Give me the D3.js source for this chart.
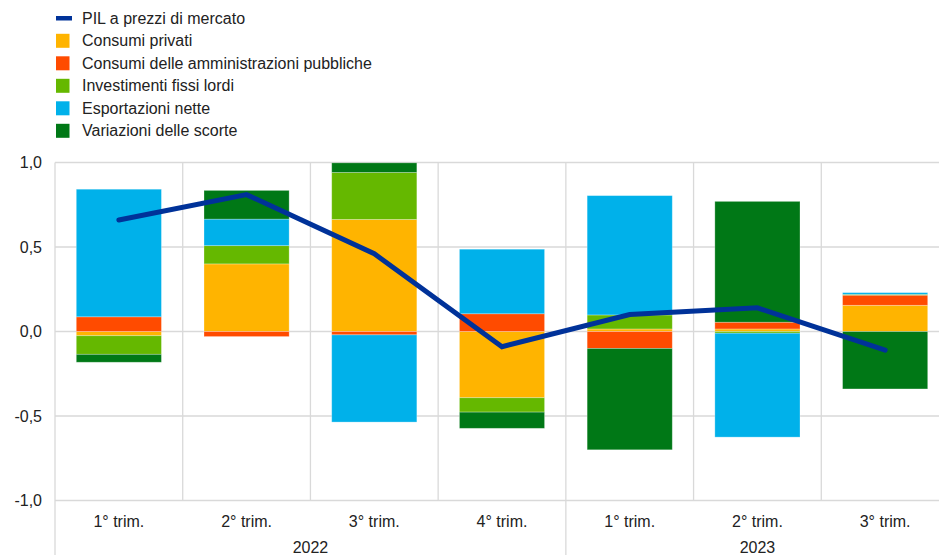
<!DOCTYPE html>
<html>
<head>
<meta charset="utf-8">
<script src="https://cdn.jsdelivr.net/npm/d3@7"></script>
<style>
  body { margin: 0; background: #fff; }
  svg { display: block; font-family: "Liberation Sans", Arial, sans-serif; }
  text { fill: #222; }
</style>
</head>
<body>
<svg id="chart" width="939" height="555"></svg>
<script>
// quarters and years
var quarters = ["1° trim.", "2° trim.", "3° trim.", "4° trim.", "1° trim.", "2° trim.", "3° trim."];
var years = ["2022", "2022", "2022", "2022", "2023", "2023", "2023"];
var yTicks = [-1, -0.5, 0, 0.5, 1];

// contributions (percentage points)
var consumiPrivati = [-0.025, 0.40, 0.663, -0.392, 0.015, 0.015, 0.155];
var consumiPA = [0.087, -0.03, -0.02, 0.105, -0.10, 0.04, 0.06];
var investimenti = [-0.11, 0.108, 0.278, -0.085, 0.083, -0.01, 0.005];
var esportazioni = [0.755, 0.157, -0.516, 0.382, 0.706, -0.615, 0.01];
var scorte = [-0.047, 0.17, 0.057, -0.096, -0.60, 0.715, -0.34];
var pil = [0.66, 0.81, 0.46, -0.09, 0.10, 0.14, -0.11];

var series = [
  { key: "priv", name: "Consumi privati", color: "#ffb400", values: consumiPrivati },
  { key: "pa", name: "Consumi delle amministrazioni pubbliche", color: "#ff4b00", values: consumiPA },
  { key: "inv", name: "Investimenti fissi lordi", color: "#65b800", values: investimenti },
  { key: "exp", name: "Esportazioni nette", color: "#00b1ea", values: esportazioni },
  { key: "sco", name: "Variazioni delle scorte", color: "#007816", values: scorte }
];
var lineColor = "#003299";
var fontSize = 16;

var svg = d3.select("#chart");
var plotLeft = 55, plotRight = 949, plotTop = 162.5, plotBottom = 500.5;

var rows = quarters.map(function(q, i) {
  var r = { i: i };
  series.forEach(function(s) { r[s.key] = s.values[i]; });
  return r;
});

var x = d3.scaleBand().domain(d3.range(quarters.length)).range([plotLeft, plotRight]).paddingInner(0).paddingOuter(0);
var y = d3.scaleLinear().domain([-1, 1]).range([plotBottom, plotTop]);

// grid
var grid = svg.append("g");
grid.selectAll(".hg").data(yTicks).enter().append("line")
  .attr("x1", plotLeft).attr("x2", plotRight)
  .attr("y1", function(d) { return y(d); }).attr("y2", function(d) { return y(d); })
  .attr("stroke", "#d9d9d9").attr("stroke-width", 1.3);

grid.selectAll(".vg").data(d3.range(quarters.length + 1)).enter().append("line")
  .attr("x1", function(d) { return plotLeft + d * x.bandwidth(); })
  .attr("x2", function(d) { return plotLeft + d * x.bandwidth(); })
  .attr("y1", plotTop)
  .attr("y2", function(d) { return (d == 0 || d == 4 || d == 7) ? 555 : plotBottom; })
  .attr("stroke", "#d9d9d9").attr("stroke-width", 1.3);

// stacked bars
var stack = d3.stack().keys(series.map(function(s) { return s.key; })).offset(d3.stackOffsetDiverging);
var stacked = stack(rows);
var barW = x.bandwidth() * 2 / 3;

svg.append("g").selectAll("g").data(stacked).enter().append("g")
  .attr("fill", function(d, i) { return series[i].color; })
  .selectAll("rect").data(function(d) { return d; }).enter().append("rect")
  .attr("x", function(d) { return x(d.data.i) + (x.bandwidth() - barW) / 2; })
  .attr("width", barW)
  .attr("y", function(d) { return y(d[1]); })
  .attr("height", function(d) { return Math.abs(y(d[0]) - y(d[1])); })
  .attr("stroke", "#fff").attr("stroke-opacity", 0.35).attr("stroke-width", 0.8);

// GDP line
var line = d3.line()
  .x(function(d, i) { return x(i) + x.bandwidth() / 2; })
  .y(function(d) { return y(d); });

svg.append("path").datum(pil)
  .attr("d", line)
  .attr("fill", "none")
  .attr("stroke", lineColor)
  .attr("stroke-width", 5)
  .attr("stroke-linecap", "round")
  .attr("stroke-linejoin", "miter");

// y labels
var fmt = function(v) { return d3.format(".1f")(v).replace(".", ",").replace("−", "-"); };
svg.append("g").selectAll("text").data(yTicks).enter().append("text")
  .attr("x", 42).attr("y", function(d) { return y(d); })
  .attr("dy", "0.35em").attr("text-anchor", "end")
  .attr("font-size", fontSize)
  .text(fmt);

// x labels
svg.append("g").selectAll("text").data(quarters).enter().append("text")
  .attr("x", function(d, i) { return x(i) + x.bandwidth() / 2; })
  .attr("y", 527).attr("text-anchor", "middle")
  .attr("font-size", fontSize)
  .text(function(d) { return d; });

var yearGroups = d3.groups(d3.range(years.length), function(i) { return years[i]; });
svg.append("g").selectAll("text").data(yearGroups).enter().append("text")
  .attr("x", function(g) { return (x(g[1][0]) + x(g[1][g[1].length - 1]) + x.bandwidth()) / 2; })
  .attr("y", 553).attr("text-anchor", "middle")
  .attr("font-size", fontSize)
  .text(function(g) { return g[0]; });

// legend
var legend = svg.append("g");
legend.append("rect").attr("x", 56).attr("y", 16).attr("width", 16).attr("height", 4.5).attr("fill", lineColor);
legend.append("text").attr("x", 82).attr("y", 18).attr("dy", "0.35em").attr("font-size", fontSize).text("PIL a prezzi di mercato");

legend.selectAll(".li").data(series).enter().append("g")
  .attr("transform", function(d, i) { return "translate(56," + (40.8 + i * 22.5) + ")"; })
  .each(function(d) {
    var g = d3.select(this);
    g.append("rect").attr("x", 0).attr("y", -7).attr("width", 13.5).attr("height", 14).attr("fill", d.color);
    g.append("text").attr("x", 26).attr("y", 0).attr("dy", "0.35em").attr("font-size", fontSize).text(d.name);
  });
</script>
</body>
</html>
